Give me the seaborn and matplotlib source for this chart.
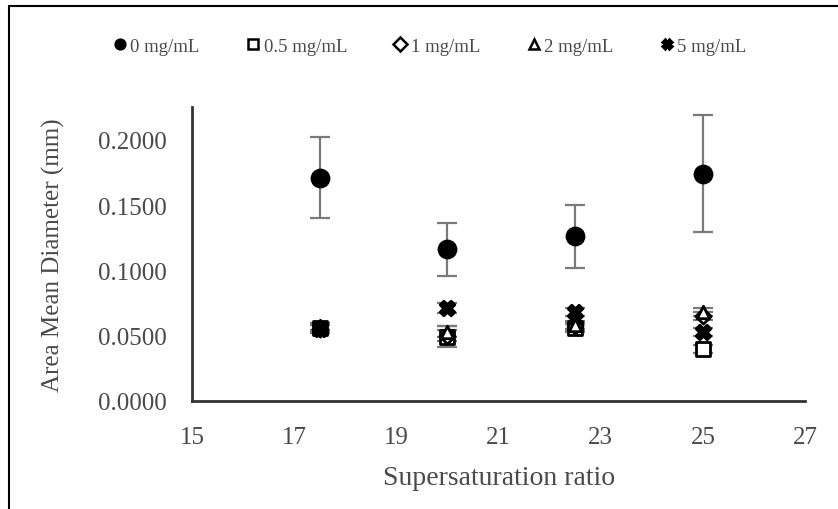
import seaborn as sns
import matplotlib.pyplot as plt
from matplotlib.lines import Line2D

# data
ratio = [17.5, 20, 22.5, 25]
series = ["0 mg/mL", "0.5 mg/mL", "1 mg/mL", "2 mg/mL", "5 mg/mL"]
d0 = [0.171, 0.116, 0.126, 0.174]
d0_err = [0.031, 0.020, 0.024, 0.045]
d05 = [0.056, 0.049, 0.056, 0.040]
d05_err = [0.003, 0.008, 0.003, 0.003]
d1 = [0.055, 0.050, 0.057, 0.065]
d1_err = [0.003, 0.004, 0.003, 0.003]
d2 = [0.057, 0.053, 0.058, 0.068]
d2_err = [0.003, 0.004, 0.003, 0.003]
d5 = [0.055, 0.071, 0.068, 0.053]
d5_err = [0.003, 0.004, 0.003, 0.003]

values = [d0, d05, d1, d2, d5]
errors = [d0_err, d05_err, d1_err, d2_err, d5_err]
markers = ["o", "s", "D", "^", "X"]
fills = ["black", "white", "white", "white", "black"]
sizes = [150, 110, 60, 80, 110]

sns.set_style("white")
plt.rcParams["font.family"] = ["Liberation Serif", "DejaVu Serif"]

fig = plt.figure(figsize=(8.38, 5.10), dpi=100)
ax = fig.add_axes([0.229, 0.212, 0.732, 0.576])

for name, v, e, m, fc, s in zip(series, values, errors, markers, fills, sizes):
    ax.errorbar(ratio, v, yerr=e, fmt="none", ecolor="#7a7a7a",
                elinewidth=1.6, capsize=7, capthick=1.6, zorder=2)
    sns.scatterplot(x=ratio, y=v, marker=m, s=s, color=fc,
                    edgecolor="black", linewidth=2, label=name, ax=ax,
                    zorder=3)

ax.set_xlim(15, 27)
ax.set_ylim(0, 0.225)
ax.set_xticks([15, 17, 19, 21, 23, 25, 27])
ax.set_yticks([0, 0.05, 0.10, 0.15, 0.20])
ax.set_yticklabels([f"{t:.4f}" for t in [0, 0.05, 0.10, 0.15, 0.20]])
ax.tick_params(axis="both", length=0, labelsize=18, labelcolor="#4a4a4a")
ax.tick_params(axis="y", pad=18)
ax.tick_params(axis="x", pad=18)
ax.set_xlabel("Supersaturation ratio", fontsize=20, color="#4a4a4a", labelpad=12)
ax.set_ylabel("Area Mean Diameter (mm)", fontsize=18, color="#4a4a4a", labelpad=24)

for side in ["top", "right"]:
    ax.spines[side].set_visible(False)
for side in ["left", "bottom"]:
    ax.spines[side].set_color("#333333")
    ax.spines[side].set_linewidth(2)

handles = [Line2D([], [], linestyle="none", marker=m, markersize=7,
                  markerfacecolor=fc, markeredgecolor="black", markeredgewidth=1.8)
           for m, fc in zip(markers, fills)]
ax.legend(handles, series, loc="center", bbox_to_anchor=(0.512, 0.907),
          bbox_transform=fig.transFigure, ncol=5, frameon=False,
          fontsize=13.5, labelcolor="#4a4a4a", handletextpad=0.1,
          columnspacing=2.4, handlelength=0.9)

# thin frame on the left and top edges of the image
fig.add_artist(Line2D([0.011, 0.011], [0, 0.986], color="black", lw=1.5,
                      transform=fig.transFigure))
fig.add_artist(Line2D([0.011, 1.0], [0.986, 0.986], color="black", lw=1.5,
                      transform=fig.transFigure))

fig.savefig("out.png", dpi=100)
plt.close(fig)
